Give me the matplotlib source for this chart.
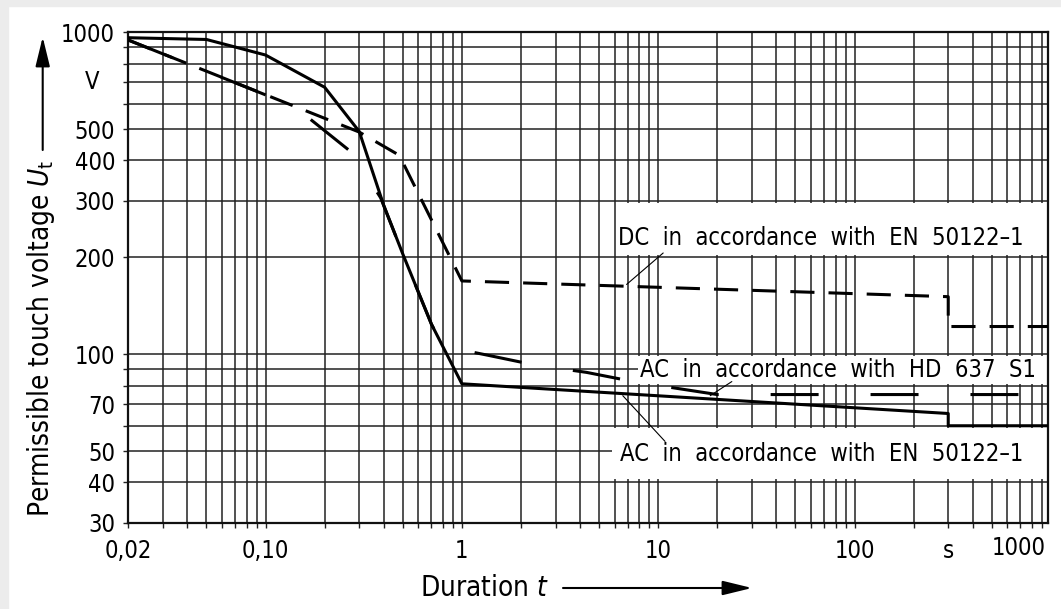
import matplotlib
matplotlib.use('Agg')
import matplotlib.pyplot as plt
import matplotlib.transforms as mtransforms
from matplotlib.patches import Rectangle
from matplotlib.ticker import FixedLocator, NullFormatter

plt.rcParams['font.family'] = ['DejaVu Sans']
plt.rcParams['font.stretch'] = 'condensed'

# DATA
t_ac_en = [0.02, 0.05, 0.1, 0.2, 0.3, 0.4, 0.5, 0.7, 1, 300, 300, 1000]
u_ac_en = [962, 950, 850, 675, 492, 290, 205, 124, 81, 65.5, 60, 60]

t_dc = [0.02, 0.3, 0.48, 1, 300, 300, 1000]
u_dc = [946, 490, 415, 169, 151, 122, 122]

t_hd = [0.02, 0.14, 0.277, 0.386, 0.5, 0.7, 0.8, 1.35, 2.36, 4.31, 7.7, 20, 1000]
u_hd = [946, 589, 422, 306, 205, 124, 106, 99.4, 92.6, 87.9, 82, 75, 75]

x_ticks = [0.02, 0.1, 1, 10, 100, 300]
x_ticklabels = ['0,02', '0,10', '1', '10', '100', 's']
y_ticks = [30, 40, 50, 70, 100, 200, 300, 400, 500, 1000]
y_ticklabels = ['30', '40', '50', '70', '100', '200', '300', '400', '500', '1000']
x_minor = [m * 10.0**e for e in range(-2, 3) for m in range(1, 10)]
y_minor = [m * 10.0**e for e in range(1, 4) for m in range(1, 10)]

label_dc = 'DC  in  accordance  with  EN  50122\u20131'
label_hd = 'AC  in  accordance  with  HD  637  S1'
label_en = 'AC  in  accordance  with  EN  50122\u20131'

# FIGURE
W, H = 1061, 609
fig = plt.figure(figsize=(W/100, H/100), dpi=100)
fig.patch.set_facecolor('white')
# light grey border on left/top like the scan
fig.add_artist(Rectangle((0, 0), 8/W, 1, transform=fig.transFigure, color='#ececec', zorder=0))
fig.add_artist(Rectangle((0, 1-6/H), 1, 6/H, transform=fig.transFigure, color='#ececec', zorder=0))

ax = fig.add_axes([128.3/W, 1-522.7/H, 920/W, 490.4/H])
ax.set_xscale('log')
ax.set_yscale('log')
ax.set_xlim(0.02, 970)
ax.set_ylim(30, 1000)

ax.xaxis.set_major_locator(FixedLocator(x_ticks))
ax.xaxis.set_minor_locator(FixedLocator(x_minor))
ax.yaxis.set_major_locator(FixedLocator(y_ticks))
ax.yaxis.set_minor_locator(FixedLocator(y_minor))
ax.set_xticklabels(x_ticklabels)
ax.set_yticklabels(y_ticklabels)
ax.xaxis.set_minor_formatter(NullFormatter())
ax.yaxis.set_minor_formatter(NullFormatter())
ax.tick_params(which='both', direction='out', length=3.5, width=1.0, color='#222222')
ax.tick_params(axis='x', which='major', pad=8, labelsize=17)
ax.tick_params(axis='y', which='major', pad=6, labelsize=17)
ax.grid(which='both', color='#222222', lw=1.1)
for s in ax.spines.values():
    s.set_linewidth(1.6)
    s.set_color('#111111')

# white label boxes that hide the grid
bt = mtransforms.blended_transform_factory(ax.transAxes, ax.transData)
for x0, y0, y1 in [(0.531, 203, 296), (0.554, 81, 99), (0.526, 41, 59)]:
    ax.add_patch(Rectangle((x0, y0), 1-x0, y1-y0, transform=bt, facecolor='white',
                           edgecolor='none', zorder=1.6))

ax.plot(t_ac_en, u_ac_en, color='black', lw=2.2, zorder=3)
ax.plot(t_dc, u_dc, color='black', lw=2.2, dashes=(7.9, 4.6), zorder=3)
ax.plot(t_hd, u_hd, color='black', lw=2.2, dashes=(15.7, 17), zorder=3)

tkw = dict(fontsize=17, va='center', ha='left', transform=ax.transAxes, zorder=4)
ax.text(0.532, 0.5806, label_dc, **tkw)
ax.text(0.556, 0.3114, label_hd, **tkw)
ax.text(0.5345, 0.1401, label_en, **tkw)

# leader lines from the labels to the curves
lkw = dict(arrowstyle='-', lw=0.8, color='black', shrinkA=0, shrinkB=0)
ax.annotate('', xy=(6.9, 164.8), xytext=(0.5814, 0.55), textcoords='axes fraction', arrowprops=lkw)
ax.annotate('', xy=(18.4, 74.4), xytext=(0.656, 0.2878), textcoords='axes fraction', arrowprops=lkw)
ax.annotate('', xy=(6.6, 74.4), xytext=(0.5834, 0.1658), textcoords='axes fraction', arrowprops=lkw)

# unit and end labels
ax.text(-0.0395, 700, 'V', transform=bt, fontsize=17, ha='center', va='center')
ax.text(0.997, -0.052, '1000', transform=ax.transAxes, fontsize=17, ha='right', va='center')

# axis titles with arrows
fig.text(41/W, 1-517/H, 'Permissible touch voltage $U_\\mathrm{t}$', rotation=90,
         rotation_mode='anchor', ha='left', va='center', fontsize=20)
fig.text(420/W, 1-588/H, 'Duration $t$', ha='left', va='center', fontsize=20)
akw = dict(arrowstyle='-|>,head_length=0.9,head_width=0.22', lw=1.5, color='black',
           mutation_scale=20, shrinkA=0, shrinkB=0)
ax.annotate('', xy=(42.7, H-37), xytext=(42.7, H-150), xycoords='figure pixels',
            textcoords='figure pixels', arrowprops=akw)
ax.annotate('', xy=(752, H-588), xytext=(563, H-588), xycoords='figure pixels',
            textcoords='figure pixels', arrowprops=akw)

fig.savefig('out.png', dpi=100)
